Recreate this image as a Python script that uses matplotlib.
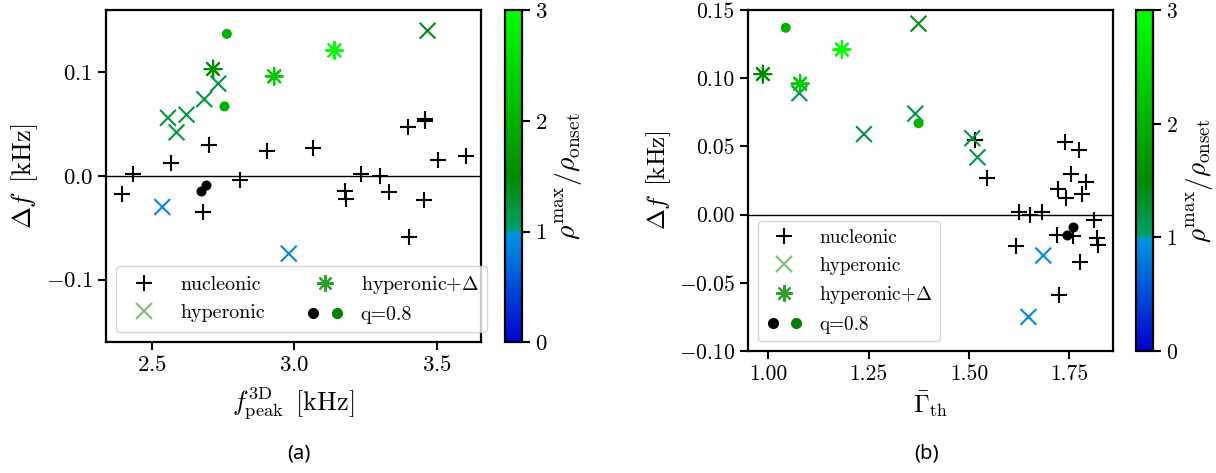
import numpy as np
import matplotlib
matplotlib.use("Agg")
import matplotlib.pyplot as plt
from matplotlib.colors import LinearSegmentedColormap, Normalize
from matplotlib.cm import ScalarMappable
from matplotlib.lines import Line2D
from matplotlib.legend_handler import HandlerTuple

plt.rcParams["font.family"] = "serif"
plt.rcParams["font.serif"] = ["cmr10"]
plt.rcParams["mathtext.fontset"] = "cm"
plt.rcParams["axes.formatter.use_mathtext"] = True
plt.rcParams["axes.unicode_minus"] = True

# --- nucleonic models ---
nuc_fpeak = [3.458, 3.458, 3.399, 2.700, 3.064, 2.905, 3.600, 3.501, 2.566, 2.434,
             3.233, 3.300, 2.809, 3.177, 3.330, 2.397, 3.181, 3.454, 2.678, 3.401]
nuc_gamma = [1.515, 1.738, 1.773, 1.754, 1.544, 1.791, 1.721, 1.782, 1.741, 1.625,
             1.681, 1.652, 1.812, 1.719, 1.758, 1.818, 1.821, 1.616, 1.777, 1.724]
nuc_df = [0.055, 0.053, 0.047, 0.030, 0.027, 0.024, 0.019, 0.015, 0.012, 0.002,
          0.002, 0.000, -0.004, -0.015, -0.016, -0.017, -0.022, -0.023, -0.035, -0.059]

# --- hyperonic models ---
hyp_fpeak = [3.466, 2.733, 2.684, 2.622, 2.557, 2.587, 2.537, 2.980]
hyp_gamma = [1.374, 1.077, 1.366, 1.238, 1.508, 1.521, 1.685, 1.648]
hyp_df = [0.140, 0.089, 0.074, 0.059, 0.056, 0.042, -0.030, -0.075]
hyp_rho = [1.4, 1.2, 1.2, 1.2, 1.2, 1.2, 0.9, 0.9]

# --- hyperonic + Delta models ---
del_fpeak = [2.715, 2.929, 3.140]
del_gamma = [0.986, 1.079, 1.183]
del_df = [0.103, 0.096, 0.121]
del_rho = [1.55, 2.3, 3.0]

# --- q = 0.8 runs ---
q_nuc_fpeak = [2.689, 2.674]
q_nuc_gamma = [1.760, 1.744]
q_nuc_df = [-0.009, -0.015]
q_hyp_fpeak = [2.763, 2.755]
q_hyp_gamma = [1.043, 1.374]
q_hyp_df = [0.137, 0.067]
q_hyp_rho = [2.0, 2.0]

cmap = LinearSegmentedColormap.from_list(
    "rho_ratio",
    [(0.0, "#0000cc"), (0.3333, "#0099e0"), (0.3334, "#00a070"),
     (0.5, "#008a00"), (1.0, "#00ff00")])
norm = Normalize(0, 3)

W, H = 1216, 473
fig = plt.figure(figsize=(W / 100, H / 100), dpi=100)


def px_axes(x0, x1, y0, y1):
    return fig.add_axes([x0 / W, 1 - y1 / H, (x1 - x0) / W, (y1 - y0) / H])


ax1 = px_axes(106, 481, 10, 342.3)
cax1 = px_axes(505, 522, 10, 342.3)
ax2 = px_axes(748, 1112.7, 10, 351)
cax2 = px_axes(1136, 1153.3, 10.5, 351)

ms_plus = 125
ms_x = 130
ms_star = 150
ms_dot = 52


def draw(ax, xn, xh, xd, xqn, xqh, fs_tick, fs_lab):
    ax.axhline(0, color="k", lw=1.0, zorder=1)
    ax.scatter(xn, nuc_df, marker="+", s=ms_plus, color="k", lw=1.5, zorder=3)
    ax.scatter(xh, hyp_df, marker="x", s=ms_x, c=hyp_rho, cmap=cmap, norm=norm,
               lw=1.5, zorder=3)
    ax.scatter(xd, del_df, marker=(8, 2, 0), s=ms_star, c=del_rho, cmap=cmap,
               norm=norm, lw=1.5, zorder=3)
    ax.scatter(xqn, q_nuc_df, marker="o", s=ms_dot, color="k", lw=0, zorder=4)
    ax.scatter(xqh, q_hyp_df, marker="o", s=ms_dot, c=q_hyp_rho, cmap=cmap,
               norm=norm, lw=0, zorder=4)
    for sp in ax.spines.values():
        sp.set_linewidth(1.6)
    ax.tick_params(labelsize=fs_tick, width=1.5, length=6)
    ax.set_ylabel(r"$\Delta f\ \,[\mathrm{kHz}]$", fontsize=fs_lab)


draw(ax1, nuc_fpeak, hyp_fpeak, del_fpeak, q_nuc_fpeak, q_hyp_fpeak, 16.5, 19)
ax1.set_xlim(2.340, 3.653)
ax1.set_ylim(-0.1605, 0.160)
ax1.set_xticks([2.5, 3.0, 3.5])
ax1.set_yticks([-0.1, 0.0, 0.1])
ax1.set_xlabel(r"$f_{\rm peak}^{\rm 3D}\ \,[\mathrm{kHz}]$", fontsize=19,
               labelpad=7)

draw(ax2, nuc_gamma, hyp_gamma, del_gamma, q_nuc_gamma, q_hyp_gamma, 15.5, 18)
ax2.set_xlim(0.949, 1.858)
ax2.set_ylim(-0.10, 0.15)
ax2.set_xticks([1.0, 1.25, 1.5, 1.75])
ax2.set_yticks([-0.10, -0.05, 0.0, 0.05, 0.10, 0.15])
ax2.set_xticklabels(["1.00", "1.25", "1.50", "1.75"])
ax2.set_yticklabels(["$-0.10$", "$-0.05$", "0.00", "0.05", "0.10", "0.15"])
ax2.set_xlabel(r"$\bar{\Gamma}_{\rm th}$", fontsize=18)

# legend handles
h_nuc = Line2D([], [], ls="", marker="+", color="k", ms=11.5, mew=1.5)
h_hyp = Line2D([], [], ls="", marker="x", color="#80c080", ms=11.5, mew=1.5)
h_del = Line2D([], [], ls="", marker=(8, 2, 0), color="#2ca02c", ms=12, mew=1.5)
h_q1 = Line2D([], [], ls="", marker="o", color="k", ms=7)
h_q2 = Line2D([], [], ls="", marker="o", color="#008000", ms=7)
handles = [h_nuc, h_hyp, h_del, (h_q1, h_q2)]
labels = ["nucleonic", "hyperonic", r"hyperonic+$\Delta$", "q=0.8"]

ax1.legend(handles, labels, loc="lower left", ncol=2, fontsize=14.4,
           handler_map={tuple: HandlerTuple(ndivide=None)})
ax2.legend(handles, labels, loc="lower left", ncol=1, fontsize=13.8,
           handler_map={tuple: HandlerTuple(ndivide=None)})

for cax, fs_tick, fs_lab in ((cax1, 16.5, 20), (cax2, 15.5, 19.5)):
    cb = fig.colorbar(ScalarMappable(norm=norm, cmap=cmap), cax=cax,
                      ticks=[0, 1, 2, 3])
    cb.outline.set_linewidth(1.6)
    cb.ax.tick_params(labelsize=fs_tick, width=1.5, length=6)
    cb.set_label(r"$\rho^{\rm max}/\rho_{\rm onset}$", fontsize=fs_lab)

fig.text(299 / W, 1 - 453 / H, "(a)", family="Noto Sans", fontsize=14.5,
         ha="center", va="center")
fig.text(927 / W, 1 - 453 / H, "(b)", family="Noto Sans", fontsize=14.5,
         ha="center", va="center")

fig.savefig("out.png", dpi=100)
